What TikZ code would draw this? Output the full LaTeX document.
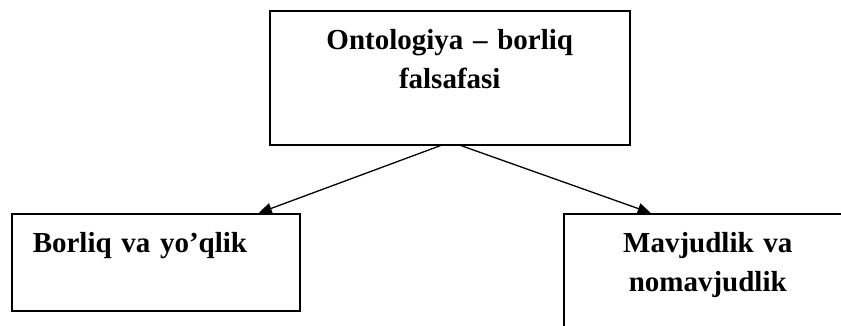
\documentclass[tikz,border=0pt]{standalone}
\usepackage{fontspec}
\setmainfont{Liberation Serif}
\usetikzlibrary{arrows.meta}

\tikzset{
	concept/.style={draw, line width=1.5pt, inner xsep=0pt, inner ysep=0pt,
		text width=360pt, align=center, anchor=north west, text height=39pt,
		font=\fontsize{29pt}{39pt}\selectfont\bfseries},
	link/.style={line width=1.3pt, -{Triangle[length=13pt,width=11pt]}}
}

\begin{document}
\begin{tikzpicture}[x=1pt,y=-1pt]
		\clip (0,0) rectangle (841,325);
	
		\node[concept, text depth=95pt] (onto) at (269,10) {Ontologiya – borliq\\falsafasi};
	
		\node[concept, text width=246pt, inner xsep=21pt, align=left, text depth=58pt] (borliq) at (11,213) {Borliq va yo’qlik};
		
		\node[concept, text width=288pt, text depth=81pt] (mavjud) at (563,213) {Mavjudlik va\\nomavjudlik};
		
		%%% ARROWS
		\draw[link] ([xshift=-9pt]onto.south) -- ([xshift=103pt]borliq.north);
		\draw[link] ([xshift=11pt]onto.south) -- ([xshift=-57pt]mavjud.north);
	\end{tikzpicture}
\end{document}
